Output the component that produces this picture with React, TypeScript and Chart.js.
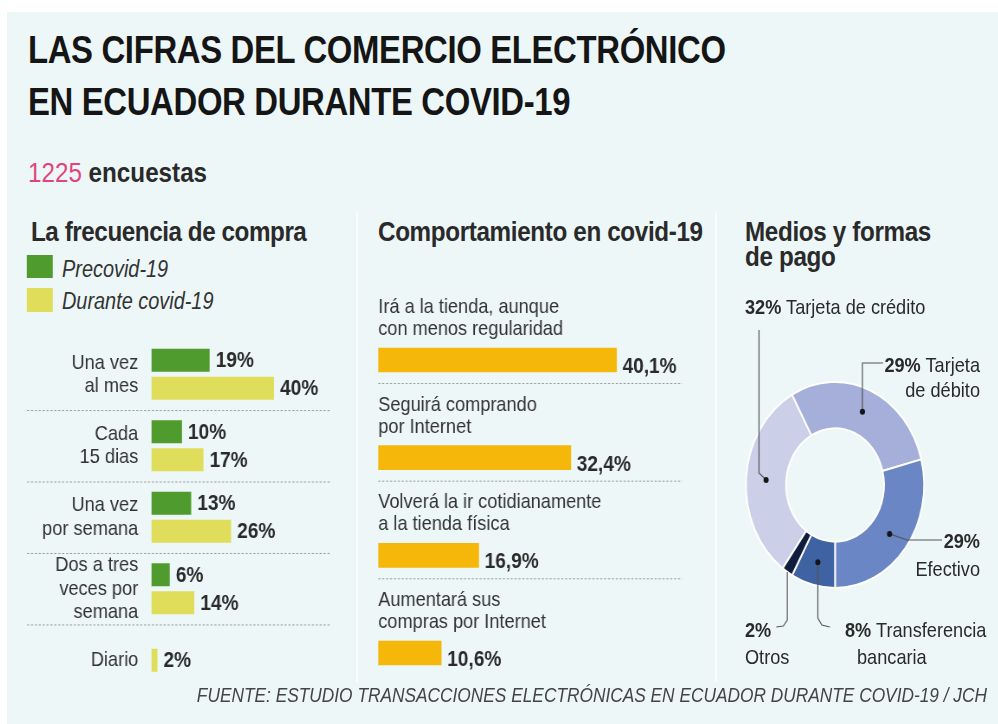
import React, { useEffect, useRef } from "react";
import { Chart, registerables } from "chart.js";

Chart.register(...registerables);

// ---------- data ----------
const freqCategories: string[][] = [
  ["Una vez", "al mes"],
  ["Cada", "15 dias"],
  ["Una vez", "por semana"],
  ["Dos a tres", "veces por", "semana"],
  ["Diario"],
];
const precovidValues: (number | null)[] = [19, 10, 13, 6, null];
const duringCovidValues: number[] = [40, 17, 26, 14, 2];

const behaviourCategories: string[][] = [
  ["Irá a la tienda, aunque", "con menos regularidad"],
  ["Seguirá comprando", "por Internet"],
  ["Volverá la ir cotidianamente", "a la tienda física"],
  ["Aumentará sus", "compras por Internet"],
];
const behaviourValues: number[] = [40.1, 32.4, 16.9, 10.6];

const paymentLabels: string[] = ["Tarjeta de crédito", "Tarjeta de débito", "Efectivo", "Transferencia bancaria", "Otros"];
const paymentValues: number[] = [32, 29, 29, 8, 2];

// ---------- styling ----------
const S = 0.865; // horizontal compression of the whole infographic
const STAGE_W = 998 / S;
const vx = (x: number) => x / S;
const FONT = "'Liberation Sans', Arial, Helvetica, sans-serif";
const BG = "#edf7f8";
const GREEN = "#4f9b2d";
const YELLOW = "#dfdd5a";
const ORANGE = "#f5b70a";
const PAY_COLORS = ["#cbd0e8", "#a5afd9", "#6b86c5", "#3f62a3", "#0f1c3c"];
const TEXT = "#2a2a2a";

Chart.defaults.font.family = FONT;

function drawDotted(ctx: CanvasRenderingContext2D, x0: number, x1: number, y: number) {
  ctx.save();
  ctx.strokeStyle = "#9c9c9c";
  ctx.lineWidth = 1;
  ctx.setLineDash([2.5, 2]);
  ctx.beginPath();
  ctx.moveTo(x0, y + 0.5);
  ctx.lineTo(x1, y + 0.5);
  ctx.stroke();
  ctx.restore();
}

// ---------- left chart ----------
const freqPlugin = {
  id: "freqDecor",
  beforeDatasetsDraw(chart: any) {
    const ys = chart.scales.y;
    const ctx = chart.ctx;
    const left = chart.chartArea.left;
    for (let i = 0; i < freqCategories.length - 1; i++) {
      const y = (ys.getPixelForValue(i) + ys.getPixelForValue(i + 1)) / 2;
      drawDotted(ctx, left - (151 - 27) / S, left + (330 - 151) / S, y);
    }
  },
  afterDatasetsDraw(chart: any) {
    const ctx = chart.ctx;
    ctx.save();
    ctx.font = `bold 22px ${FONT}`;
    ctx.fillStyle = TEXT;
    ctx.textBaseline = "middle";
    ctx.textAlign = "left";
    chart.data.datasets.forEach((ds: any, di: number) => {
      const meta = chart.getDatasetMeta(di);
      meta.data.forEach((bar: any, i: number) => {
        const v = ds.data[i];
        if (v === null || v === undefined) return;
        ctx.fillText(`${v}%`, bar.x + 7, bar.y + 1);
      });
    });
    ctx.restore();
  },
};

function FreqChart() {
  const ref = useRef<HTMLCanvasElement>(null);
  useEffect(() => {
    const chart = new Chart(ref.current!, {
      type: "bar",
      data: {
        labels: freqCategories as any,
        datasets: [
          { label: "Precovid-19", data: precovidValues as any, backgroundColor: GREEN },
          { label: "Durante covid-19", data: duringCovidValues, backgroundColor: YELLOW },
        ],
      },
      options: {
        indexAxis: "y",
        animation: false,
        responsive: false,
        events: [],
        layout: { padding: { top: 3.6, bottom: 4.1, right: 52.6, left: 0 } },
        datasets: {
          bar: { categoryPercentage: 0.784, barPercentage: 0.82, maxBarThickness: 23, skipNull: true } as any,
        },
        plugins: { legend: { display: false }, tooltip: { enabled: false } },
        scales: {
          x: { display: false, min: 0, max: 50 },
          y: {
            afterFit: (s: any) => {
              s.width = (151 - 7) / S;
              s.paddingTop = 0;
              s.paddingBottom = 0;
            },
            grid: { display: false, drawTicks: false },
            border: { display: false },
            ticks: { autoSkip: false, padding: 15, color: "#333", font: { size: 21, lineHeight: 1.1 } },
          },
        },
      },
      plugins: [freqPlugin],
    } as any);
    return () => chart.destroy();
  }, []);
  const w = vx(350) - vx(7);
  return <canvas ref={ref} width={w} height={365} style={{ position: "absolute", left: vx(7), top: 335, width: w, height: 365 }} />;
}

// ---------- middle chart ----------
const behaviourPlugin = {
  id: "behaviourDecor",
  afterDatasetsDraw(chart: any) {
    const ctx = chart.ctx;
    const left = chart.chartArea.left;
    const meta = chart.getDatasetMeta(0);
    ctx.save();
    meta.data.forEach((bar: any, i: number) => {
      const lines = behaviourCategories[i];
      ctx.font = `21px ${FONT}`;
      ctx.fillStyle = "#333";
      ctx.textAlign = "left";
      ctx.textBaseline = "alphabetic";
      ctx.fillText(lines[0], left, bar.y - 47);
      ctx.fillText(lines[1], left, bar.y - 25);
      ctx.font = `bold 22px ${FONT}`;
      ctx.fillStyle = TEXT;
      ctx.fillText(`${behaviourValues[i].toFixed(1).replace(".", ",")}%`, bar.x + 6 / S, bar.y + 13);
      if (i < meta.data.length - 1) drawDotted(ctx, left, left + (682 - 378) / S, bar.y + 23);
    });
    ctx.restore();
  },
};

function BehaviourChart() {
  const ref = useRef<HTMLCanvasElement>(null);
  useEffect(() => {
    const chart = new Chart(ref.current!, {
      type: "bar",
      data: {
        labels: behaviourCategories.map((l) => l.join(" ")),
        datasets: [{ label: "Comportamiento", data: behaviourValues, backgroundColor: ORANGE, barThickness: 24 }],
      },
      options: {
        indexAxis: "y",
        animation: false,
        responsive: false,
        events: [],
        layout: { padding: { top: 26.2, bottom: 3.2, left: 2 / S, right: 42.2 } },
        plugins: { legend: { display: false }, tooltip: { enabled: false } },
        scales: {
          x: { display: false, min: 0, max: 50 },
          y: { display: false },
        },
      },
      plugins: [behaviourPlugin],
    } as any);
    return () => chart.destroy();
  }, []);
  const w = vx(712) - vx(376);
  return <canvas ref={ref} width={w} height={420} style={{ position: "absolute", left: vx(376), top: 285, width: w, height: 420 }} />;
}

// ---------- doughnut ----------
type Pt = { dx?: number; dy: number; fromStartX?: number };
const LEADERS: Pt[][] = [
  [{ dx: -76, dy: -12 }, { dx: -76, dy: -155 }],
  [{ fromStartX: 0, dy: -122 }, { dx: 48, dy: -122 }],
  [{ dx: 72, dy: 55 }, { dx: 107, dy: 55 }],
  [{ fromStartX: 0, dy: 133 }, { fromStartX: 4, dy: 140 }, { fromStartX: 12, dy: 142 }],
  [{ fromStartX: 0, dy: 135 }, { fromStartX: -4, dy: 141 }, { fromStartX: -11, dy: 142 }],
];

const payPlugin = {
  id: "payDecor",
  afterDatasetsDraw(chart: any) {
    const ctx = chart.ctx;
    const meta = chart.getDatasetMeta(0);
    ctx.save();
    meta.data.forEach((arc: any, i: number) => {
      const p = arc.getProps(["x", "y", "startAngle", "endAngle", "outerRadius"], true);
      let start: { x: number; y: number };
      const isDot = i < 4;
      if (isDot) {
        start = arc.tooltipPosition(true);
      } else {
        const mid = (p.startAngle + p.endAngle) / 2;
        start = { x: p.x + Math.cos(mid) * p.outerRadius, y: p.y + Math.sin(mid) * p.outerRadius };
      }
      ctx.strokeStyle = "#555";
      ctx.lineWidth = 1.2;
      ctx.beginPath();
      ctx.moveTo(start.x, start.y);
      LEADERS[i].forEach((pt) => {
        const X = pt.fromStartX !== undefined ? start.x + pt.fromStartX / S : p.x + (pt.dx as number) / S;
        ctx.lineTo(X, p.y + pt.dy);
      });
      ctx.stroke();
      if (isDot) {
        ctx.fillStyle = "#151515";
        ctx.beginPath();
        ctx.arc(start.x, start.y, 3, 0, Math.PI * 2);
        ctx.fill();
      }
    });
    ctx.restore();
  },
};

function PaymentChart() {
  const ref = useRef<HTMLCanvasElement>(null);
  useEffect(() => {
    const chart = new Chart(ref.current!, {
      type: "doughnut",
      data: {
        labels: paymentLabels,
        datasets: [{ data: paymentValues, backgroundColor: PAY_COLORS, borderColor: "#ffffff", borderWidth: 2 }],
      },
      options: {
        animation: false,
        responsive: false,
        events: [],
        rotation: 216,
        radius: 103,
        cutout: "55%",
        layout: { padding: { left: 0, top: 0, right: 300 - (2 * vx(835) - 850 - 850), bottom: 10 } },
        plugins: { legend: { display: false }, tooltip: { enabled: false } },
      },
      plugins: [payPlugin],
    } as any);
    return () => chart.destroy();
  }, []);
  return <canvas ref={ref} width={300} height={400} style={{ position: "absolute", left: 850, top: 290, width: 300, height: 400 }} />;
}

// ---------- text helper ----------
function Txt(props: {
  x: number;
  base: number;
  size: number;
  right?: boolean;
  style?: React.CSSProperties;
  children: React.ReactNode;
}) {
  const { x, base, size, right, style, children } = props;
  const pos: React.CSSProperties = right ? { right: STAGE_W - vx(x) } : { left: vx(x) };
  return (
    <div
      style={{
        position: "absolute",
        top: base - 0.8465 * size,
        ...pos,
        fontSize: size,
        lineHeight: `${size}px`,
        whiteSpace: "nowrap",
        color: TEXT,
        ...style,
      }}
    >
      {children}
    </div>
  );
}

export default function App() {
  return (
    <div style={{ position: "fixed", left: 0, top: 0, width: 998, height: 724, overflow: "hidden", background: "#fff" }}>
      <div
        style={{
          position: "absolute",
          left: 0,
          top: 0,
          width: STAGE_W,
          height: 724,
          transform: `scaleX(${S})`,
          transformOrigin: "0 0",
          fontFamily: FONT,
        }}
      >
        <div style={{ position: "absolute", left: vx(7), top: 12, width: STAGE_W - vx(7), height: 712, background: BG }} />
        <div style={{ position: "absolute", left: vx(356), top: 212, width: 2, height: 470, background: "rgba(255,255,255,0.8)" }} />
        <div style={{ position: "absolute", left: vx(715), top: 212, width: 2, height: 470, background: "rgba(255,255,255,0.8)" }} />

        <Txt x={28} base={63} size={38} style={{ fontWeight: 700, letterSpacing: -0.4, color: "#151515" }}>
          LAS CIFRAS DEL COMERCIO ELECTRÓNICO
        </Txt>
        <Txt x={28} base={115} size={38} style={{ fontWeight: 700, letterSpacing: -0.4, color: "#151515" }}>
          EN ECUADOR DURANTE COVID-19
        </Txt>
        <Txt x={28} base={183} size={28}>
          <span style={{ color: "#e0467c" }}>1225</span> <span style={{ fontWeight: 700 }}>encuestas</span>
        </Txt>

        <Txt x={31} base={242} size={28} style={{ fontWeight: 700, letterSpacing: -0.5 }}>
          La frecuencia de compra
        </Txt>
        <div style={{ position: "absolute", left: vx(27), top: 255, width: 26 / S, height: 23, background: GREEN }} />
        <div style={{ position: "absolute", left: vx(27), top: 288, width: 26 / S, height: 24, background: YELLOW }} />
        <Txt x={62} base={277} size={23} style={{ fontStyle: "italic", color: "#333" }}>
          Precovid-19
        </Txt>
        <Txt x={62} base={309} size={23} style={{ fontStyle: "italic", color: "#333" }}>
          Durante covid-19
        </Txt>

        <Txt x={378} base={242} size={28} style={{ fontWeight: 700, letterSpacing: -0.4 }}>
          Comportamiento en covid-19
        </Txt>

        <Txt x={745} base={242} size={28} style={{ fontWeight: 700, letterSpacing: -0.4 }}>
          Medios y formas
        </Txt>
        <Txt x={745} base={267} size={28} style={{ fontWeight: 700, letterSpacing: -0.4 }}>
          de pago
        </Txt>

        <FreqChart />
        <BehaviourChart />
        <PaymentChart />

        <Txt x={745} base={314} size={21}>
          <b>32%</b> Tarjeta de crédito
        </Txt>
        <Txt x={980} base={372} size={21} right>
          <b>29%</b> Tarjeta
        </Txt>
        <Txt x={980} base={397} size={21} right>
          de débito
        </Txt>
        <Txt x={980} base={548} size={21} right>
          <b>29%</b>
        </Txt>
        <Txt x={980} base={576} size={21} right>
          Efectivo
        </Txt>
        <Txt x={845} base={637} size={21}>
          <b>8%</b> Transferencia
        </Txt>
        <Txt x={857} base={664} size={21}>
          bancaria
        </Txt>
        <Txt x={745} base={637} size={21}>
          <b>2%</b>
        </Txt>
        <Txt x={745} base={664} size={21}>
          Otros
        </Txt>

        <Txt x={987} base={702} size={20} right style={{ fontStyle: "italic", color: "#444" }}>
          FUENTE: ESTUDIO TRANSACCIONES ELECTRÓNICAS EN ECUADOR DURANTE COVID-19 / JCH
        </Txt>
      </div>
    </div>
  );
}
